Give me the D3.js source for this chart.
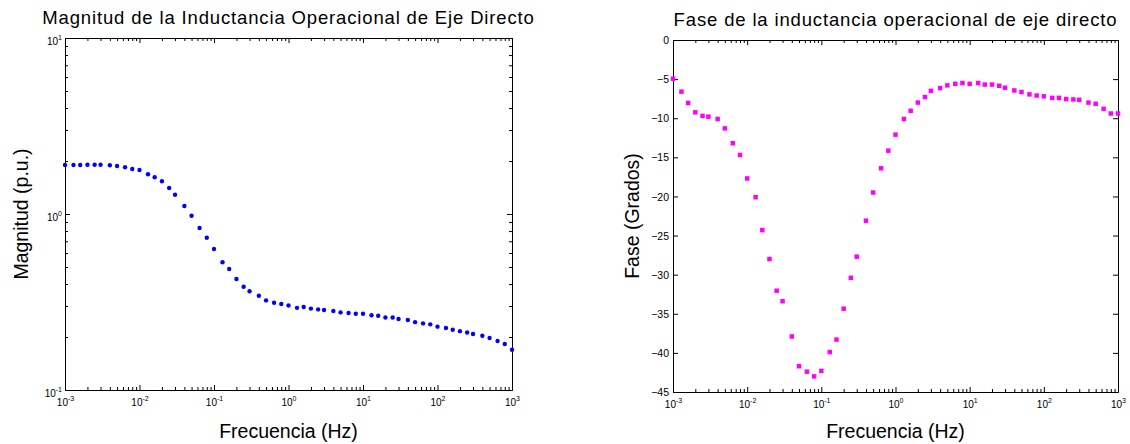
<!DOCTYPE html>
<html>
<head>
<meta charset="utf-8">
<script src="https://cdn.jsdelivr.net/npm/d3@7"></script>
<style>
  html, body { margin: 0; padding: 0; background: #fff; }
  svg { display: block; font-family: "Liberation Sans", Arial, Helvetica, sans-serif; }
</style>
</head>
<body>
<svg id="chart" width="1130" height="444"></svg>
<script>
// Frequencies of the measurement (Hz)
const freqHz = [
  0.001, 0.0013, 0.0016, 0.002, 0.0025, 0.003, 0.004, 0.005, 0.0064, 0.008,
  0.01, 0.013, 0.016, 0.02, 0.025, 0.03, 0.04, 0.05, 0.064, 0.08,
  0.1, 0.13, 0.16, 0.2, 0.25, 0.3, 0.4, 0.5, 0.64, 0.8,
  1, 1.3, 1.6, 2, 2.5, 3, 4, 5, 6.4, 8,
  10, 13, 16, 20, 25, 30, 40, 50, 64, 80,
  100, 130, 160, 200, 250, 300, 400, 500, 640, 800,
  1000
];

// Magnitude of the direct-axis operational inductance (p.u.)
const magnitudPU = [
  1.898, 1.898, 1.898, 1.906, 1.906, 1.906, 1.891, 1.874, 1.842, 1.802,
  1.778, 1.681, 1.616, 1.534, 1.405, 1.287, 1.110, 0.978, 0.833, 0.733,
  0.633, 0.532, 0.487, 0.427, 0.386, 0.364, 0.343, 0.323, 0.313, 0.308,
  0.302, 0.293, 0.296, 0.290, 0.287, 0.285, 0.281, 0.276, 0.274, 0.271,
  0.271, 0.266, 0.264, 0.258, 0.258, 0.253, 0.250, 0.243, 0.239, 0.236,
  0.229, 0.225, 0.220, 0.216, 0.212, 0.208, 0.2035, 0.1974, 0.190, 0.1826,
  0.1694
];

// Phase of the direct-axis operational inductance (degrees)
const faseGrados = [
  -4.95, -6.6, -8.05, -9.25, -9.7, -9.8, -10.1, -11.3, -13.2, -14.7,
  -17.7, -20.1, -24.3, -28.0, -32.05, -33.4, -37.9, -41.7, -42.4, -43.0,
  -42.3, -39.9, -38.3, -34.35, -30.4, -27.7, -23.1, -19.5, -16.4, -14.15,
  -12.1, -10.1, -9.05, -8.0, -7.3, -6.5, -6.15, -5.8, -5.6, -5.5,
  -5.6, -5.5, -5.7, -5.7, -5.85, -6.1, -6.45, -6.65, -6.95, -7.1,
  -7.2, -7.4, -7.4, -7.55, -7.6, -7.65, -8.0, -8.15, -8.8, -9.4,
  -9.4
];

// Tick values
const freqDecades = [1e-3, 1e-2, 1e-1, 1e0, 1e1, 1e2, 1e3];
const freqExponents = ["-3", "-2", "-1", "0", "1", "2", "3"];
const magDecades = [1e-1, 1e0, 1e1];
const magExponents = ["-1", "0", "1"];
const faseTicks = [0, -5, -10, -15, -20, -25, -30, -35, -40, -45];

const titles = [
  "Magnitud de la Inductancia Operacional de Eje Directo",
  "Fase de la inductancia operacional de eje directo"
];
const xLabel = "Frecuencia (Hz)";
const yLabels = ["Magnitud (p.u.)", "Fase (Grados)"];

const svg = d3.select("#chart");

// Panel frames (pixels)
const left  = { x0: 65,  x1: 512,  y0: 38, y1: 390 };
const right = { x0: 673, x1: 1118, y0: 40, y1: 392 };

const xMag = d3.scaleLog().domain([1e-3, 1e3]).range([left.x0, left.x1]);
const yMag = d3.scaleLog().domain([0.1, 10]).range([left.y1, left.y0]);
const xFase = d3.scaleLog().domain([1e-3, 1e3]).range([right.x0, right.x1]);
const yFase = d3.scaleLinear().domain([-45, 0]).range([right.y1, right.y0]);

const MAJOR = 5, MINOR = 3;

function minorLog(scale) {
  return scale.ticks().filter(v => {
    const e = Math.log10(v);
    return Math.abs(e - Math.round(e)) > 1e-6;
  });
}

function styleAxis(g) {
  g.selectAll("path.domain").attr("stroke", "#000").attr("stroke-width", 1);
  g.selectAll(".tick line").attr("stroke", "#000").attr("stroke-width", 1);
  g.attr("font-family", null).attr("font-size", null);
}

// Power-of-ten label: "10" with a raised exponent
function powerLabel(textSel, exps) {
  textSel.each(function(d, i) {
    const t = d3.select(this);
    t.text(null);
    t.append("tspan").attr("font-size", 10).text("10");
    t.append("tspan").attr("font-size", 7).attr("dy", -5).text(exps[i]);
  });
}

function logXAxes(xs, frame) {
  // bottom, labelled
  const bottom = svg.append("g")
    .attr("transform", `translate(0,${frame.y1})`)
    .call(d3.axisBottom(xs).tickValues(freqDecades).tickSize(-MAJOR).tickSizeOuter(0).tickPadding(0));
  styleAxis(bottom);
  bottom.selectAll(".tick text")
    .attr("fill", "#000").attr("dy", null).attr("y", 16)
    .attr("text-anchor", "middle")
    .call(powerLabel, freqExponents);
  svg.append("g")
    .attr("transform", `translate(0,${frame.y1})`)
    .call(d3.axisBottom(xs).tickValues(minorLog(xs)).tickSize(-MINOR).tickSizeOuter(0).tickFormat(""))
    .call(styleAxis);
  // top, unlabelled
  svg.append("g")
    .attr("transform", `translate(0,${frame.y0})`)
    .call(d3.axisTop(xs).tickValues(freqDecades).tickSize(-MAJOR).tickSizeOuter(0).tickFormat(""))
    .call(styleAxis);
  svg.append("g")
    .attr("transform", `translate(0,${frame.y0})`)
    .call(d3.axisTop(xs).tickValues(minorLog(xs)).tickSize(-MINOR).tickSizeOuter(0).tickFormat(""))
    .call(styleAxis);
}

// ---- Left panel: magnitude ----
logXAxes(xMag, left);

const magLeft = svg.append("g")
  .attr("transform", `translate(${left.x0},0)`)
  .call(d3.axisLeft(yMag).tickValues(magDecades).tickSize(-MAJOR).tickSizeOuter(0).tickPadding(3));
styleAxis(magLeft);
magLeft.selectAll(".tick text")
  .attr("fill", "#000").attr("dy", "0.4em").attr("text-anchor", "end")
  .call(powerLabel, magExponents);
svg.append("g")
  .attr("transform", `translate(${left.x0},0)`)
  .call(d3.axisLeft(yMag).tickValues(minorLog(yMag)).tickSize(-MINOR).tickSizeOuter(0).tickFormat(""))
  .call(styleAxis);
svg.append("g")
  .attr("transform", `translate(${left.x1},0)`)
  .call(d3.axisRight(yMag).tickValues(magDecades).tickSize(-MAJOR).tickSizeOuter(0).tickFormat(""))
  .call(styleAxis);
svg.append("g")
  .attr("transform", `translate(${left.x1},0)`)
  .call(d3.axisRight(yMag).tickValues(minorLog(yMag)).tickSize(-MINOR).tickSizeOuter(0).tickFormat(""))
  .call(styleAxis);

svg.append("g").selectAll("circle")
  .data(freqHz.map((f, i) => ({ f, v: magnitudPU[i] })))
  .join("circle")
  .attr("cx", d => xMag(d.f))
  .attr("cy", d => yMag(d.v))
  .attr("r", 2.2)
  .attr("fill", "#0000ff");

// ---- Right panel: phase ----
logXAxes(xFase, right);

const faseLeft = svg.append("g")
  .attr("transform", `translate(${right.x0},0)`)
  .call(d3.axisLeft(yFase).tickValues(faseTicks).tickSize(-MAJOR).tickSizeOuter(0).tickPadding(4).tickFormat(d3.format("d")));
styleAxis(faseLeft);
faseLeft.selectAll(".tick text")
  .attr("fill", "#000").attr("font-size", 10.5).attr("dy", "0.34em");
svg.append("g")
  .attr("transform", `translate(${right.x1},0)`)
  .call(d3.axisRight(yFase).tickValues(faseTicks).tickSize(-MAJOR).tickSizeOuter(0).tickFormat(""))
  .call(styleAxis);

const sq = 4.5;
svg.append("g").selectAll("rect")
  .data(freqHz.map((f, i) => ({ f, v: faseGrados[i] })))
  .join("rect")
  .attr("x", d => xFase(d.f) - sq / 2)
  .attr("y", d => yFase(d.v) - sq / 2)
  .attr("width", sq)
  .attr("height", sq)
  .attr("fill", "#ff00ff");

// ---- Titles and axis labels ----
[left, right].forEach((fr, i) => {
  const cx = (fr.x0 + fr.x1) / 2;
  const cy = (fr.y0 + fr.y1) / 2;
  svg.append("text")
    .attr("x", cx).attr("y", fr.y0 - 14)
    .attr("text-anchor", "middle")
    .attr("font-size", 18.5)
    .attr("letter-spacing", 0.85)
    .attr("fill", "#000")
    .text(titles[i]);
  svg.append("text")
    .attr("x", cx).attr("y", 438)
    .attr("text-anchor", "middle")
    .attr("font-size", 19.5)
    .attr("fill", "#000")
    .text(xLabel);
  const yx = i === 0 ? 28 : 639;
  svg.append("text")
    .attr("transform", `translate(${yx},${cy}) rotate(-90)`)
    .attr("text-anchor", "middle")
    .attr("font-size", 19.5)
    .attr("fill", "#000")
    .text(yLabels[i]);
});
</script>
</body>
</html>
